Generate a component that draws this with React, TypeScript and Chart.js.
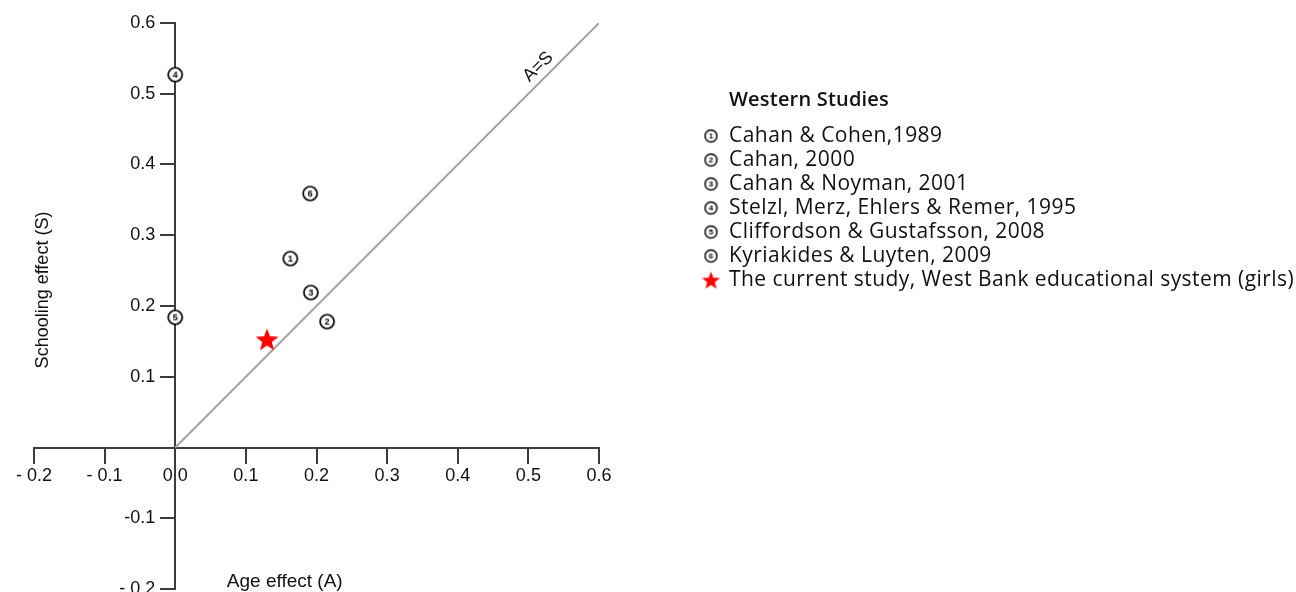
import React, { useEffect, useRef } from 'react';
import { Chart, registerables } from 'chart.js';

Chart.register(...registerables);

// ---- Data ----
const studyLabels = [
  'Cahan & Cohen,1989',
  'Cahan, 2000',
  'Cahan & Noyman, 2001',
  'Stelzl, Merz, Ehlers & Remer, 1995',
  'Cliffordson & Gustafsson, 2008',
  'Kyriakides & Luyten, 2009',
];
const studyAge = [0.163, 0.215, 0.192, 0, 0, 0.191];
const studySchool = [0.267, 0.178, 0.219, 0.527, 0.184, 0.359];

const currentLabel = 'The current study, West Bank educational system (girls)';
const currentAge = [0.13];
const currentSchool = [0.153];

const diagonalAge = [0, 0.6];
const diagonalSchool = [0, 0.6];

const legendTitle = 'Western Studies';
const diagonalLabel = 'A=S';
const xTitle = 'Age effect (A)';
const yTitle = 'Schooling effect (S)';

const xTickValues = [-0.2, -0.1, 0, 0.1, 0.2, 0.3, 0.4, 0.5, 0.6];
const xTickLabels = ['- 0.2', '- 0.1', '0.0', '0.1', '0.2', '0.3', '0.4', '0.5', '0.6'];
const yTickValues = [-0.2, -0.1, 0.1, 0.2, 0.3, 0.4, 0.5, 0.6];
const yTickLabels = ['- 0.2', '-0.1', '0.1', '0.2', '0.3', '0.4', '0.5', '0.6'];

const AXIS_FONT = '"Liberation Sans", Arial, sans-serif';
const LEGEND_FONT = '"Open Sans", "Noto Sans", sans-serif';
const INK = '#111111';
const AXIS_COLOR = '#3c3c3c';

function circledMarker(n: number, d: number, fontSize: number, lw: number) {
  const size = Math.ceil(d + lw * 2 + 2);
  const c = document.createElement('canvas');
  c.width = size;
  c.height = size;
  const ctx = c.getContext('2d')!;
  ctx.beginPath();
  ctx.arc(size / 2, size / 2, d / 2, 0, Math.PI * 2);
  ctx.fillStyle = '#ffffff';
  ctx.fill();
  ctx.lineWidth = lw;
  ctx.strokeStyle = '#000000';
  ctx.stroke();
  ctx.fillStyle = '#000000';
  ctx.font = `bold ${fontSize}px ${AXIS_FONT}`;
  ctx.textAlign = 'center';
  ctx.textBaseline = 'middle';
  ctx.fillText(String(n), size / 2, size / 2 + 0.5);
  return c;
}

function starMarker(R: number, color: string) {
  const size = Math.ceil(R * 2 + 2);
  const c = document.createElement('canvas');
  c.width = size;
  c.height = size;
  const ctx = c.getContext('2d')!;
  const cx = size / 2;
  const cy = size / 2 + R * 0.1;
  const r = R * 0.42;
  ctx.beginPath();
  for (let i = 0; i < 10; i++) {
    const rad = i % 2 === 0 ? R : r;
    const a = -Math.PI / 2 + (i * Math.PI) / 5;
    const px = cx + rad * Math.cos(a);
    const py = cy + rad * Math.sin(a);
    if (i === 0) ctx.moveTo(px, py);
    else ctx.lineTo(px, py);
  }
  ctx.closePath();
  ctx.fillStyle = color;
  ctx.fill();
  return c;
}

export default function App() {
  const canvasRef = useRef<HTMLCanvasElement | null>(null);

  useEffect(() => {
    const canvas = canvasRef.current;
    if (!canvas) return;

    const studyMarkers = studyLabels.map((_, i) => circledMarker(i + 1, 14, 9, 1.7));
    const legendMarkers = studyLabels.map((_, i) => circledMarker(i + 1, 12, 8, 1.5));
    const bigStar = starMarker(12, '#ff0000');
    const smallStar = starMarker(9.5, '#ff0000');

    const textPlugin = {
      id: 'textPlugin',
      afterDraw(chart: any) {
        const { ctx, scales } = chart;
        const xs = scales.x;
        const ys = scales.y;
        ctx.save();
        ctx.fillStyle = INK;

        // y tick labels (left of the crossing axis)
        ctx.font = `18px ${AXIS_FONT}`;
        ctx.textAlign = 'right';
        ctx.textBaseline = 'middle';
        const axisX = xs.getPixelForValue(0);
        yTickValues.forEach((v, i) => {
          ctx.fillText(yTickLabels[i], axisX - 20, ys.getPixelForValue(v));
        });

        // y-axis title
        ctx.save();
        ctx.font = `18px ${AXIS_FONT}`;
        ctx.textAlign = 'center';
        ctx.textBaseline = 'middle';
        ctx.translate(43, 290);
        ctx.rotate(-Math.PI / 2);
        ctx.fillText(yTitle, 0, 0);
        ctx.restore();

        // x-axis title
        ctx.font = `19px ${AXIS_FONT}`;
        ctx.textAlign = 'center';
        ctx.textBaseline = 'middle';
        ctx.fillText(xTitle, xs.getPixelForValue(0.155), ys.getPixelForValue(-0.19));

        // A=S label along diagonal
        ctx.save();
        ctx.font = `18px ${AXIS_FONT}`;
        ctx.translate(xs.getPixelForValue(0.514), ys.getPixelForValue(0.538));
        ctx.rotate(-Math.PI / 4);
        ctx.textAlign = 'center';
        ctx.textBaseline = 'middle';
        ctx.fillText(diagonalLabel, 0, 0);
        ctx.restore();

        // Legend
        const lx = 729;
        const iconX = 711;
        ctx.textAlign = 'left';
        ctx.textBaseline = 'middle';
        ctx.font = `600 20px ${LEGEND_FONT}`;
        (ctx as any).letterSpacing = '0.2px';
        ctx.fillText(legendTitle, lx, 100);
        ctx.font = `21px ${LEGEND_FONT}`;
        (ctx as any).letterSpacing = '0.45px';
        const rowY0 = 136;
        const rowStep = 24;
        studyLabels.forEach((lab, i) => {
          const yy = rowY0 + i * rowStep;
          const m = legendMarkers[i];
          ctx.drawImage(m, iconX - m.width / 2, yy - m.height / 2);
          ctx.fillText(lab, lx, yy);
        });
        const yy = rowY0 + studyLabels.length * rowStep;
        ctx.drawImage(smallStar, iconX - smallStar.width / 2, yy - smallStar.height / 2);
        ctx.fillText(currentLabel, lx, yy);
        (ctx as any).letterSpacing = '0px';
        ctx.restore();
      },
    };

    const chart = new Chart(canvas, {
      type: 'scatter',
      data: {
        datasets: [
          {
            type: 'line',
            label: diagonalLabel,
            data: diagonalAge.map((a, i) => ({ x: a, y: diagonalSchool[i] })),
            borderColor: '#a3a3a3',
            borderWidth: 2,
            pointRadius: 0,
            fill: false,
            order: 2,
          } as any,
          {
            label: 'Western Studies',
            data: studyAge.map((a, i) => ({ x: a, y: studySchool[i] })),
            pointStyle: studyMarkers as any,
            pointRadius: 7,
            order: 1,
          },
          {
            label: currentLabel,
            data: currentAge.map((a, i) => ({ x: a, y: currentSchool[i] })),
            pointStyle: bigStar as any,
            pointRadius: 12,
            order: 0,
          },
        ],
      },
      options: {
        responsive: false,
        animation: false,
        events: [],
        layout: {
          padding: { left: 34, right: 697, top: 23, bottom: 31 },
        },
        plugins: {
          legend: { display: false },
          tooltip: { enabled: false },
          title: { display: false },
        },
        scales: {
          x: {
            type: 'linear',
            position: { y: 0 } as any,
            min: -0.2,
            max: 0.6,
            afterBuildTicks: (scale: any) => {
              scale.ticks = xTickValues.map((v) => ({ value: v }));
            },
            ticks: {
              autoSkip: false,
              maxRotation: 0,
              padding: 3,
              color: INK,
              font: { family: AXIS_FONT, size: 18 },
              callback: (_v: any, idx: number) => xTickLabels[idx],
            },
            grid: {
              drawOnChartArea: false,
              drawTicks: true,
              tickLength: 15,
              color: AXIS_COLOR,
              lineWidth: 2,
            },
            border: { display: true, color: AXIS_COLOR, width: 2 },
          },
          y: {
            type: 'linear',
            position: { x: 0 } as any,
            min: -0.2,
            max: 0.6,
            afterBuildTicks: (scale: any) => {
              scale.ticks = yTickValues.map((v) => ({ value: v }));
            },
            ticks: {
              autoSkip: false,
              padding: 5,
              color: 'rgba(0,0,0,0)',
              font: { family: AXIS_FONT, size: 18 },
              callback: () => '',
            },
            grid: {
              drawOnChartArea: false,
              drawTicks: true,
              tickLength: 14,
              color: AXIS_COLOR,
              lineWidth: 2,
            },
            border: { display: true, color: AXIS_COLOR, width: 2 },
          },
        },
      },
      plugins: [textPlugin],
    });

    return () => {
      chart.destroy();
    };
  }, []);

  return (
    <div
      style={{
        position: 'absolute',
        left: 0,
        top: 0,
        width: 1296,
        height: 592,
        overflow: 'hidden',
        background: '#ffffff',
      }}
    >
      <canvas ref={canvasRef} width={1296} height={620} style={{ display: 'block' }} />
    </div>
  );
}
